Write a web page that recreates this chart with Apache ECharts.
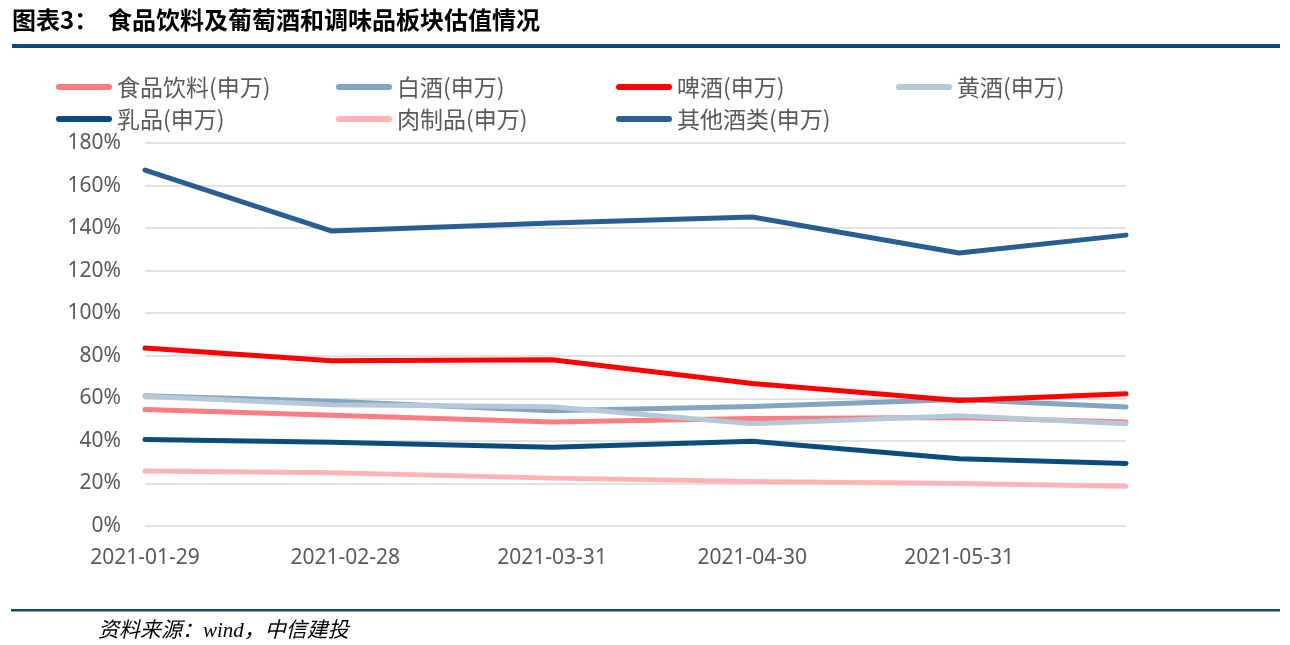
<!DOCTYPE html>
<html>
<head>
<meta charset="utf-8">
<title>食品饮料及葡萄酒和调味品板块估值情况</title>
<script src="https://cdn.jsdelivr.net/npm/echarts@6/dist/echarts.min.js"></script>
<style>
  html, body { margin: 0; padding: 0; background: #fff; }
  #chart { width: 1290px; height: 645px; }
</style>
</head>
<body>
<div id="chart"></div>
<script>
// 交易日（每月最后一个数据点）
const dates = ['2021-01-29', '2021-02-26', '2021-03-31', '2021-04-30', '2021-05-31', '2021-06-25']
// 横轴显示的标签日期
const tickDates = ['2021-01-29', '2021-02-28', '2021-03-31', '2021-04-30', '2021-05-31']

// 估值（%）
const foodBev = [54.7, 52.0, 48.9, 50.5, 51.0, 48.9]
const baijiu = [61.2, 58.6, 54.2, 56.2, 59.5, 55.9]
const beer = [83.6, 77.7, 78.1, 67.0, 59.0, 62.2]
const huangjiu = [61.0, 57.0, 56.0, 48.1, 51.8, 48.1]
const dairy = [40.6, 39.4, 37.0, 39.8, 31.6, 29.4]
const meat = [25.8, 25.0, 22.5, 20.9, 20.0, 18.7]
const otherLiquor = [167.3, 138.6, 142.4, 145.2, 128.3, 136.7]

const seriesDefs = [
    { name: '食品饮料(申万)', data: foodBev, color: '#FF7C80' },
    { name: '白酒(申万)', data: baijiu, color: '#84A5C0' },
    { name: '啤酒(申万)', data: beer, color: '#FF0000' },
    { name: '黄酒(申万)', data: huangjiu, color: '#B4C8D8' },
    { name: '乳品(申万)', data: dairy, color: '#0A4D7C' },
    { name: '肉制品(申万)', data: meat, color: '#FFB3B5' },
    { name: '其他酒类(申万)', data: otherLiquor, color: '#285E91' }
]

// 日期字符串 -> 时间戳（UTC，避免时区问题）
const toTs = s => Date.parse(s + 'T00:00:00Z')
const pad = n => (n < 10 ? '0' : '') + n
const fmtDate = v => {
    const d = new Date(v)
    return d.getUTCFullYear() + '-' + pad(d.getUTCMonth() + 1) + '-' + pad(d.getUTCDate())
}

const chart = echarts.init(document.getElementById('chart'))

const option = {
    animation: false,
    backgroundColor: '#fff',
    graphic: [
        {
            type: 'text', left: 12, top: 8,
            style: { text: '图表3：', font: 'bold 24px "Noto Sans CJK SC"', fill: '#000' }
        },
        {
            type: 'text', left: 108, top: 8,
            style: { text: '食品饮料及葡萄酒和调味品板块估值情况', font: 'bold 24px "Noto Sans CJK SC"', fill: '#000' }
        },
        {
            type: 'rect', shape: { x: 12, y: 44, width: 1268, height: 4 },
            style: { fill: '#0E4A7C' }
        },
        {
            type: 'rect', shape: { x: 11, y: 609, width: 1269, height: 2.5 },
            style: { fill: '#0E4A7C' }
        },
        {
            type: 'text', left: 98, top: 621,
            style: {
                text: '资料来源：wind，中信建投',
                font: 'italic 21px "Liberation Serif", "Noto Sans CJK SC"',
                fill: '#000'
            }
        }
    ],
    legend: {
        left: 56,
        top: 71,
        width: 1130,
        padding: 0,
        itemGap: 0,
        itemWidth: 56,
        itemHeight: 6,
        icon: 'path://M3,0 L53,0 A3,3 0 0 1 53,6 L3,6 A3,3 0 0 1 3,0 Z',
        textStyle: {
            fontFamily: '"Noto Sans CJK SC"',
            fontSize: 23,
            color: '#595959',
            width: 219,
            lineHeight: 32
        },
        data: seriesDefs.map(s => s.name)
    },
    grid: {
        left: 145,
        right: 164,
        top: 143,
        bottom: 119
    },
    xAxis: {
        type: 'value',
        min: toTs(dates[0]),
        max: toTs(dates[dates.length - 1]),
        axisLine: { show: false },
        axisTick: { show: false },
        splitLine: { show: false },
        axisLabel: {
            customValues: tickDates.map(toTs),
            formatter: v => fmtDate(v),
            fontFamily: '"Noto Sans"',
            fontSize: 21,
            color: '#595959',
            margin: 22
        }
    },
    yAxis: {
        type: 'value',
        min: 0,
        max: 180,
        interval: 20,
        axisLine: { show: false },
        axisTick: { show: false },
        splitLine: { lineStyle: { color: '#D9D9D9', width: 1.5 } },
        axisLabel: {
            formatter: '{value}%',
            fontFamily: '"Noto Sans"',
            fontSize: 21,
            color: '#595959',
            margin: 24
        }
    },
    series: seriesDefs.map(s => ({
        name: s.name,
        type: 'line',
        data: dates.map((d, i) => [toTs(d), s.data[i]]),
        symbol: 'none',
        color: s.color,
        lineStyle: { width: 5, color: s.color, cap: 'round', join: 'round' },
        emphasis: { disabled: true }
    }))
}

chart.setOption(option)
</script>
</body>
</html>
